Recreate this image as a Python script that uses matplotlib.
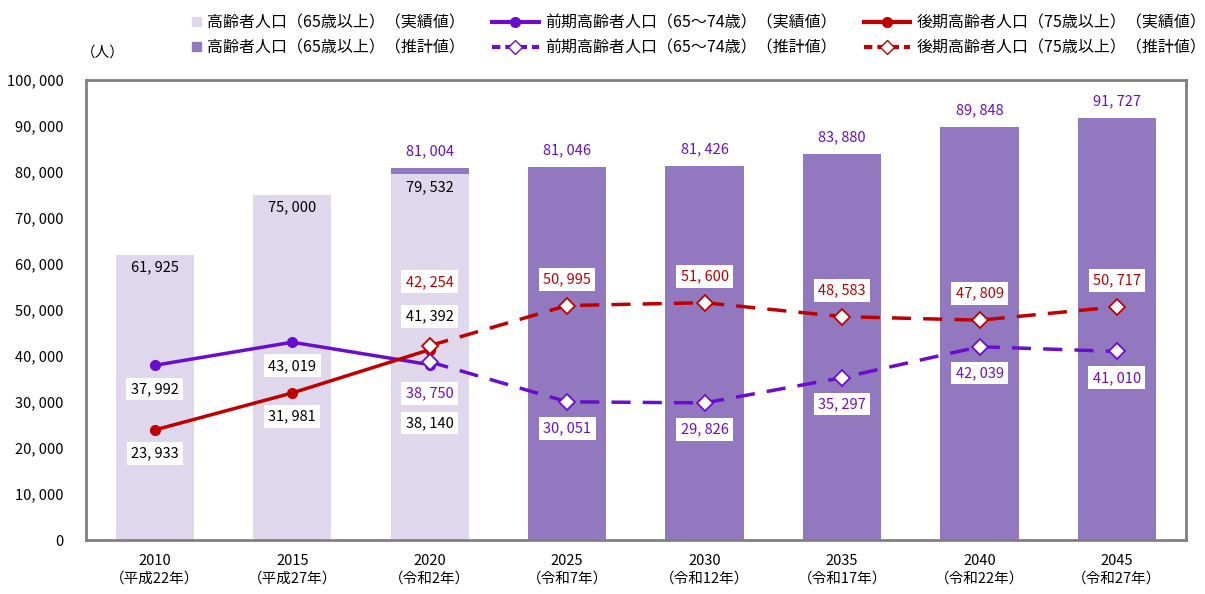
import matplotlib
matplotlib.use('Agg')
import matplotlib.pyplot as plt
from matplotlib.patches import Patch, Rectangle
from matplotlib.lines import Line2D
from matplotlib.legend_handler import HandlerPatch

plt.rcParams['font.family'] = ['Noto Sans CJK JP', 'DejaVu Sans']

# data
years = ['2010', '2015', '2020', '2025', '2030', '2035', '2040', '2045']
eras = ['（平成22年）', '（平成27年）', '（令和2年）', '（令和7年）',
        '（令和12年）', '（令和17年）', '（令和22年）', '（令和27年）']
total_actual = [61925, 75000, 79532]          # 2010-2020
total_est = [81004, 81046, 81426, 83880, 89848, 91727]  # 2020-2045
early_actual = [37992, 43019, 38140]
late_actual = [23933, 31981, 41392]
early_est = [38750, 30051, 29826, 35297, 42039, 41010]
late_est = [42254, 50995, 51600, 48583, 47809, 50717]

light = '#DFD8EC'
dark = '#9279BF'
purple = '#6A0DCC'
red = '#C00000'

def fmt(v):
    return '{:,}'.format(v).replace(',', ', ')

fig = plt.figure(figsize=(12.05, 5.94), dpi=100)
ax = fig.add_axes([0.0714, 0.0909, 0.9126, 0.7741])

x_act = list(range(len(total_actual)))
x_est = list(range(2, 2 + len(total_est)))
w = 0.57

ax.bar(x_est, total_est, width=w, color=dark, zorder=1)
ax.bar(x_act, total_actual, width=w, color=light, zorder=2)

ax.plot(x_act, early_actual, color=purple, lw=2.5, marker='o', ms=7, zorder=3)
ax.plot(x_act, late_actual, color=red, lw=2.5, marker='o', ms=7, zorder=3)
ax.plot(x_est, early_est, color=purple, lw=2.5, dashes=(5.5, 3.5), marker='D', ms=8,
        mfc='white', mec=purple, mew=1.3, zorder=4)
ax.plot(x_est, late_est, color=red, lw=2.5, dashes=(5.5, 3.5), marker='D', ms=8,
        mfc='white', mec=red, mew=1.3, zorder=4)

box = dict(boxstyle='square,pad=0.3', fc='white', ec='none')
fs = 10.5

def label(x, y, dy, color, bbox=True):
    ax.annotate(fmt(y), (x, y), xytext=(0, dy), textcoords='offset points',
                ha='center', va='center', color=color, fontsize=fs,
                bbox=box if bbox else None, zorder=6)

# bar labels
for x, v in zip(x_act, total_actual):
    label(x, v, -9, 'black', bbox=False)
for x, v in zip(x_est, total_est):
    label(x, v, 12, purple, bbox=False)

# line labels, actual
for x, v in zip(x_act[:2], early_actual[:2]):
    label(x, v, -17, 'black')
for x, v in zip(x_act[:2], late_actual[:2]):
    label(x, v, -17, 'black')
label(2, early_actual[2], -42, 'black')
label(2, late_actual[2], 24, 'black')

# line labels, estimate
label(2, early_est[0], -23, purple)
label(2, late_est[0], 46, red)
for x, v in zip(x_est[1:], early_est[1:]):
    label(x, v, -19, purple)
for x, v in zip(x_est[1:], late_est[1:]):
    label(x, v, 19, red)

ax.set_xlim(-0.5, 7.5)
ax.set_ylim(0, 100000)
ax.set_yticks(range(0, 100001, 10000))
ax.set_yticklabels([fmt(v) for v in range(0, 100001, 10000)], fontsize=fs)
ax.set_xticks(range(len(years)))
ax.set_xticklabels([y + '\n' + e for y, e in zip(years, eras)], fontsize=fs,
                   linespacing=1.3)
ax.tick_params(axis='both', length=0)
ax.tick_params(axis='y', pad=16)
ax.tick_params(axis='x', pad=10)
for s in ax.spines.values():
    s.set_color('#808080')
    s.set_linewidth(2)

fig.text(0.085, 0.912, '（人）', fontsize=fs, ha='center', va='center')


# small square legend keys sitting right next to the text
def small_square(legend, orig_handle, xdescent, ydescent, width, height, fontsize):
    s = 0.55 * fontsize
    return Rectangle((-xdescent + width - s, -ydescent + (height - s) / 2), s, s)


handles = [
    Patch(color=light),
    Patch(color=dark),
    Line2D([], [], color=purple, lw=3, marker='o', ms=7),
    Line2D([], [], color=purple, lw=3, dashes=(2, 1.2), marker='D', ms=7, mfc='white', mec=purple),
    Line2D([], [], color=red, lw=3, marker='o', ms=7),
    Line2D([], [], color=red, lw=3, dashes=(2, 1.2), marker='D', ms=7, mfc='white', mec=red),
]
labels = [
    '高齢者人口（65歳以上）（実績値）',
    '高齢者人口（65歳以上）（推計値）',
    '前期高齢者人口（65～74歳）（実績値）',
    '前期高齢者人口（65～74歳）（推計値）',
    '後期高齢者人口（75歳以上）（実績値）',
    '後期高齢者人口（75歳以上）（推計値）',
]
fig.legend(handles, labels, ncol=3, loc='upper right', bbox_to_anchor=(1.013, 1.0),
           frameon=False, fontsize=11.5, handlelength=2.9, handleheight=0.6,
           columnspacing=1.7, labelspacing=0.5, handletextpad=0.4,
           handler_map={Patch: HandlerPatch(patch_func=small_square)})

fig.savefig('out.png', dpi=100)
